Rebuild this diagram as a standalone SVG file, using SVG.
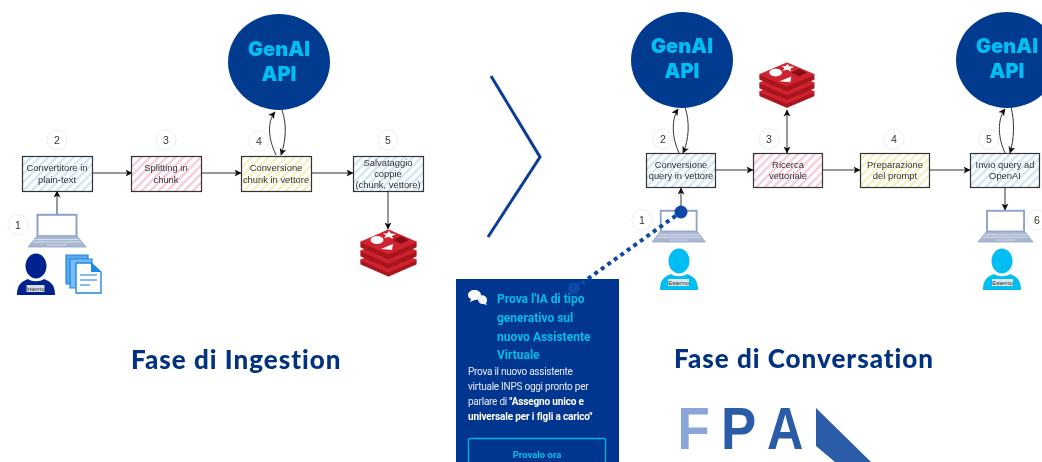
<svg xmlns="http://www.w3.org/2000/svg" width="1042" height="462" viewBox="0 0 1042 462">
<style>
.box{stroke:#333;stroke-width:1.2}
.lbl{font:9.4px "Liberation Sans",Arial,sans-serif;fill:#333;text-anchor:middle}
.num{fill:#fff;stroke:#dbe3f1;stroke-width:1;stroke-dasharray:2 1}
.numt{font:10.5px "Liberation Sans",Arial,sans-serif;fill:#333;text-anchor:middle}
.api{fill:#023a8f}
.apit{font:900 20px "Inter","Liberation Sans",sans-serif;fill:#00bdf2;text-anchor:middle}
.ln{fill:none;stroke:#333;stroke-width:1;marker-end:url(#ah)}
.ttl{font:900 26px "Lato","Liberation Sans",sans-serif;fill:#03307f;letter-spacing:1px}
.pt{font:700 12px "Roboto","Liberation Sans",sans-serif;fill:#02bfe6}
.pb{font:10px "Roboto","Liberation Sans",sans-serif;fill:#e6edf8;letter-spacing:-.25px}
.pbb{font-weight:700;fill:#fff;letter-spacing:-.15px}
.badge{font:6px "Liberation Sans",Arial,sans-serif;fill:#222;text-anchor:middle}
.fpa{font:700 60px "Liberation Sans",Arial,sans-serif}
.rt{fill:#cf2430;stroke:#cf2430;stroke-width:1.2;stroke-linejoin:round}
.rs{fill:#a8151f;stroke:#a8151f;stroke-width:1.2;stroke-linejoin:round}
</style>
<defs>
<filter id="soft" x="-2%" y="-2%" width="104%" height="104%"><feGaussianBlur stdDeviation="0.35"/></filter>
<pattern id="hb" width="6" height="6" patternUnits="userSpaceOnUse" patternTransform="rotate(45)"><rect width="6" height="6" fill="#fff"/><rect width="2.4" height="6" fill="#cfe6f6"/></pattern>
<pattern id="hp" width="6" height="6" patternUnits="userSpaceOnUse" patternTransform="rotate(45)"><rect width="6" height="6" fill="#fff"/><rect width="2.4" height="6" fill="#f6cbd8"/></pattern>
<pattern id="hy" width="6" height="6" patternUnits="userSpaceOnUse" patternTransform="rotate(45)"><rect width="6" height="6" fill="#fff"/><rect width="2.4" height="6" fill="#f3f0bd"/></pattern>
<marker id="ah" markerWidth="8" markerHeight="8" refX="6.5" refY="3.5" orient="auto" markerUnits="userSpaceOnUse"><path d="M0,0 L7,3.5 L0,7 L1.8,3.5Z" fill="#111"/></marker>
<marker id="ahs" markerWidth="8" markerHeight="8" refX="0.5" refY="3.5" orient="auto" markerUnits="userSpaceOnUse"><path d="M7,0 L0,3.5 L7,7 L5.2,3.5Z" fill="#111"/></marker>
<g id="laptop"><rect x="9.500" y="0.800" width="39" height="21.500" fill="#fff" stroke="#8ea3c9" stroke-width="2"/><path d="M9,22 H49 L58,33 H0Z" fill="#aab7d0" stroke="#8ea3c9" stroke-width="0.8"/><path d="M7,25.500 H51 M5,28 H53 M19,31 H39" stroke="#e3e8f2" stroke-width="0.8"/></g>
<g id="person"><ellipse cx="19" cy="12" rx="10.5" ry="12.5"/><path d="M0,41 C0,32 3,28 11,25 C15,28 23,28 27,25 C35,28 38,32 38,41Z"/></g>
<g id="redis">
<path class="rs" d="M1,31 V35 L28.500,47 L56,35 V31Z"/><path class="rt" d="M1,31 L28.500,19 L56,31 L28.500,43Z"/>
<path class="rs" d="M1,22 V27 L28.500,39 L56,27 V22Z"/><path class="rt" d="M1,22 L28.500,10 L56,22 L28.500,34Z"/>
<path class="rs" d="M1,13 V18 L28.500,30 L56,18 V13Z"/><path class="rt" d="M1,13 L28.500,1 L56,13 L28.500,25Z"/>
<ellipse cx="17" cy="11" rx="6.500" ry="4" fill="#fff"/><path d="M29,2 L31,4.500 L36,5 L32,7 L33,10 L29,8 L24,9 L26,6.500 L23,4.500 L27,4.500Z" fill="#fff"/><path d="M21,20 L33,15 L32,21Z" fill="#fff"/><path d="M33,11 L41,7 L49,11 L41,15Z" fill="#8a1018"/>
</g>
</defs>
<rect width="1042" height="462" fill="#fff"/>
<g filter="url(#soft)">
<g id="connectors">
<path class="ln" d="M57,215 V191"/>
<path class="ln" d="M92,173 H132"/>
<path class="ln" d="M201,173 H241"/>
<path class="ln" d="M311,173 H353"/>
<path class="ln" d="M388,191 V229"/>
<path class="ln" d="M276,155 C268,138 267,122 275,112"/>
<path class="ln" d="M282,110 C287,125 286,140 281,155"/>
<path class="ln" d="M681,210 V188"/>
<path class="ln" d="M715,170 H753"/>
<path class="ln" d="M822,170 H860"/>
<path class="ln" d="M929,170 H970"/>
<path class="ln" d="M1005,187 V210"/>
<path class="ln" d="M787,110 V153" style="marker-start:url(#ahs)"/>
<path class="ln" d="M679,153 C672,138 671,120 678,109"/>
<path class="ln" d="M685,107 C690,122 689,140 683,153"/>
<path class="ln" d="M1005,153 C998,138 997,120 1005,109"/>
<path class="ln" d="M1011,107 C1015,122 1014,140 1010,153"/>
</g>
<g id="chevron"><path d="M491,76 L540,157 L488,237" fill="none" stroke="#0a3d96" stroke-width="3"/></g>
<g id="genai-1"><ellipse class="api" cx="279" cy="62" rx="51" ry="48"/><text class="apit" x="279" y="56">GenAI</text><text class="apit" x="279" y="81">API</text></g>
<g id="genai-2"><ellipse class="api" cx="682" cy="60" rx="51" ry="48"/><text class="apit" x="682" y="53">GenAI</text><text class="apit" x="682" y="78">API</text></g>
<g id="genai-3"><ellipse class="api" cx="1007" cy="60" rx="51" ry="48"/><text class="apit" x="1007" y="53">GenAI</text><text class="apit" x="1007" y="78">API</text></g>
<g id="box-convertitore"><rect class="box" x="22.500" y="156.500" width="70" height="35" fill="url(#hb)"/><text class="lbl" x="57" y="171">Convertitore in</text><text class="lbl" x="57" y="183">plain-text</text></g>
<g id="box-splitting"><rect class="box" x="131.500" y="156.500" width="70" height="35" fill="url(#hp)"/><text class="lbl" x="166" y="171">Splitting in</text><text class="lbl" x="166" y="183">chunk</text></g>
<g id="box-chunk"><rect class="box" x="241.500" y="156.500" width="70" height="35" fill="url(#hy)"/><text class="lbl" x="276" y="171">Conversione</text><text class="lbl" x="276" y="183">chunk in vettore</text></g>
<g id="box-salvataggio"><rect class="box" x="353.500" y="156.500" width="70" height="35" fill="url(#hb)"/><text class="lbl" x="388" y="166">Salvataggio</text><text class="lbl" x="388" y="177">coppie</text><text class="lbl" x="388" y="188">(chunk, vettore)</text></g>
<g id="box-query"><rect class="box" x="646.500" y="153.500" width="69" height="34" fill="url(#hb)"/><text class="lbl" x="681" y="168">Conversione</text><text class="lbl" x="681" y="179">query in vettore</text></g>
<g id="box-ricerca"><rect class="box" x="753.500" y="153.500" width="69" height="34" fill="url(#hp)"/><text class="lbl" x="788" y="168">Ricerca</text><text class="lbl" x="788" y="179">vettoriale</text></g>
<g id="box-prompt"><rect class="box" x="860.500" y="153.500" width="69" height="34" fill="url(#hy)"/><text class="lbl" x="895" y="168">Preparazione</text><text class="lbl" x="895" y="179">del prompt</text></g>
<g id="box-invio"><rect class="box" x="970.500" y="153.500" width="69" height="34" fill="url(#hb)"/><text class="lbl" x="1005" y="168">Invio query ad</text><text class="lbl" x="1005" y="179">OpenAI</text></g>
<g id="num-l1"><circle class="num" cx="18" cy="225" r="10"/><text class="numt" x="18" y="229">1</text></g>
<g id="num-l2"><circle class="num" cx="57" cy="140" r="10"/><text class="numt" x="57" y="144">2</text></g>
<g id="num-l3"><circle class="num" cx="166" cy="140" r="10"/><text class="numt" x="166" y="144">3</text></g>
<g id="num-l4"><circle class="num" cx="259" cy="141" r="10"/><text class="numt" x="259" y="145">4</text></g>
<g id="num-l5"><circle class="num" cx="388" cy="140" r="10"/><text class="numt" x="388" y="144">5</text></g>
<g id="num-r1"><circle class="num" cx="642" cy="220" r="10"/><text class="numt" x="642" y="224">1</text></g>
<g id="num-r2"><circle class="num" cx="663" cy="139" r="10"/><text class="numt" x="663" y="143">2</text></g>
<g id="num-r3"><circle class="num" cx="769" cy="139" r="10"/><text class="numt" x="769" y="143">3</text></g>
<g id="num-r4"><circle class="num" cx="894" cy="139" r="10"/><text class="numt" x="894" y="143">4</text></g>
<g id="num-r5"><circle class="num" cx="989" cy="139" r="10"/><text class="numt" x="989" y="143">5</text></g>
<g id="num-r6"><circle class="num" cx="1037" cy="220" r="10"/><text class="numt" x="1037" y="224">6</text></g>
<g id="laptop-1"><use href="#laptop" transform="translate(28,214)"/></g>
<g id="laptop-2"><use href="#laptop" transform="translate(652,210) scale(.92,.97)"/></g>
<g id="laptop-3"><use href="#laptop" transform="translate(978,210) scale(.95,.97)"/></g>
<g id="user-interno"><use href="#person" transform="translate(17,254)" fill="#02238f"/><rect x="26.500" y="285" width="18" height="7" fill="#d9dde6"/><text class="badge" x="35.500" y="291">Interno</text></g>
<g id="user-esterno-1"><use href="#person" transform="translate(660,249)" fill="#00bdf2"/><rect x="668" y="279" width="21" height="7" fill="#dce8ee"/><text class="badge" x="678.500" y="285">Esterno</text></g>
<g id="user-esterno-2"><use href="#person" transform="translate(983,249)" fill="#00bdf2"/><rect x="992" y="279" width="21" height="7" fill="#dce8ee"/><text class="badge" x="1002.500" y="285">Esterno</text></g>
<g id="documents">
<path d="M66,255 H88 V284 H66Z" fill="#5aa7ee" stroke="#1e88e5" stroke-width="1.2"/>
<path d="M70,259 H92 V288 H70Z" fill="#7cbcf4" stroke="#1e88e5" stroke-width="1.2"/>
<path d="M76,263 H91 L101,272 V293 H76Z" fill="#fff" stroke="#1e88e5" stroke-width="1.4"/>
<path d="M91,263 V272 H101Z" fill="#1e88e5"/>
<path d="M80,275 H97 M80,280 H97 M80,285 H90" stroke="#5aa7ee" stroke-width="1.6"/>
</g>
<g id="redis-1"><use href="#redis" transform="translate(360,229)"/></g>
<g id="redis-2"><use href="#redis" transform="translate(759,62) scale(.98,.96)"/></g>
<g id="panel">
<rect x="456" y="279" width="163" height="183" fill="#023490"/>
<circle cx="574" cy="288" r="6" fill="#0a46a8"/>
<path d="M468,295 C468,292 471,290 474.500,290 C478,290 481,292 481,295 C481,298 478,300 474.500,300 L470,302 L471,299 C469,298 468,297 468,295Z" fill="#fff"/>
<path d="M478.500,301 C477,300 477.500,296 481,295.500 C484,294.500 487,297 487,300 C487,301.500 486.500,302.500 486,303 L487,305 L483.500,304 C481,304.500 479,303 478.500,301Z" fill="#f0f3f9"/>
<text class="pt" x="497" y="303">Prova l'IA di tipo</text>
<text class="pt" x="497" y="322">generativo sul</text>
<text class="pt" x="497" y="341">nuovo Assistente</text>
<text class="pt" x="497" y="359">Virtuale</text>
<text class="pb" x="468" y="375">Prova il nuovo assistente</text>
<text class="pb" x="468" y="390">virtuale INPS oggi pronto per</text>
<text class="pb" x="468" y="405">parlare di <tspan class="pbb">"Assegno unico e</tspan></text>
<text class="pb pbb" x="468" y="420">universale per i figli a carico"</text>
<rect x="468.500" y="438.500" width="137" height="34" rx="2" fill="none" stroke="#02b5d8" stroke-width="1.4"/>
<text class="pt" x="537" y="458" text-anchor="middle" style="font-size:9.5px">Provalo ora</text>
</g>
<g id="callout">
<path d="M575,288 L681,212" stroke="#0a46a8" stroke-width="4" stroke-dasharray="4 4" fill="none"/>
<circle cx="681" cy="212" r="6.500" fill="#0a46a8"/>
</g>
<text class="ttl" x="131" y="369">Fase di Ingestion</text>
<text class="ttl" x="674" y="368">Fase di Conversation</text>
<g id="fpa-logo">
<text class="fpa" transform="translate(677.500,449) scale(.88,1)" fill="#8aa5d8">F</text>
<text class="fpa" transform="translate(721,449) scale(.88,1)" fill="#2a5ba8">P</text>
<text class="fpa" transform="translate(767,449) scale(.84,1)" fill="#2a5ba8">A</text>
<path d="M816,408 L871,462 H835 L816,446Z" fill="#2a5ba8"/>
</g>
</g>
</svg>
